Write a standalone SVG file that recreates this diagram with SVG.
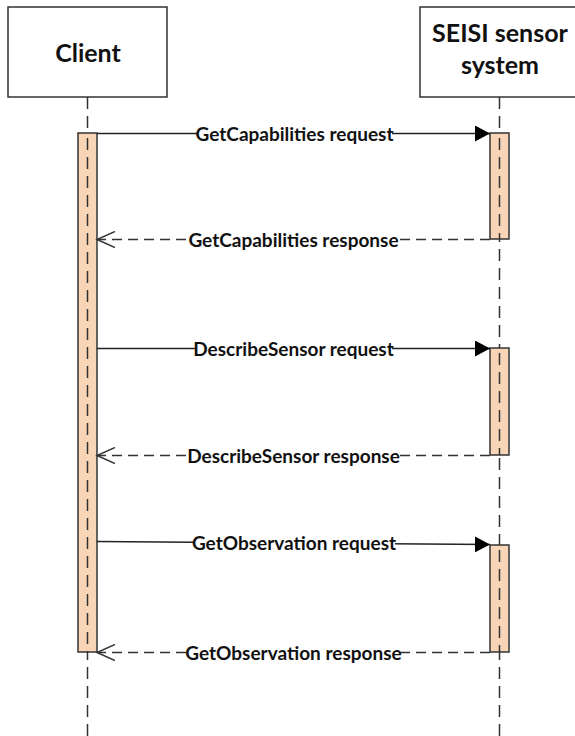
<svg xmlns="http://www.w3.org/2000/svg" width="575" height="736" viewBox="0 0 575 736">
<defs>
<style>
.box{fill:#ffffff;stroke:#333333;stroke-width:1.5}
.title{font-family:Lato,"Liberation Sans",sans-serif;font-weight:bold;font-size:25px;fill:#111111;text-anchor:middle}
.life{stroke:#333333;stroke-width:1.5;stroke-dasharray:12 7;fill:none}
.act{fill:#f9d5b7;stroke:#333333;stroke-width:1.5}
.req{stroke:#222222;stroke-width:1.5;fill:none;marker-end:url(#filled)}
.resp{stroke:#333333;stroke-width:1.6;stroke-dasharray:10 6;fill:none;marker-end:url(#open)}
.lbl{font-family:Lato,"Liberation Sans",sans-serif;font-weight:bold;font-size:19px;fill:#111111;text-anchor:middle}
.bg{fill:#ffffff}
</style>
<marker id="filled" viewBox="0 0 16 16" refX="15" refY="8" markerWidth="16" markerHeight="16" markerUnits="userSpaceOnUse" orient="auto">
<path d="M0,0 L15,8 L0,16 z" fill="#000000"/>
</marker>
<marker id="open" viewBox="0 0 20 18" refX="18" refY="9" markerWidth="20" markerHeight="18" markerUnits="userSpaceOnUse" orient="auto">
<path d="M0,1 L18,9 L0,17" fill="none" stroke="#333333" stroke-width="1.5"/>
</marker>
</defs>
<rect width="575" height="736" fill="#ffffff"/>

<g id="client">
<rect class="box" x="8" y="7" width="159" height="90"/>
<text class="title" x="88" y="62">Client</text>
<line class="life" x1="87.5" y1="97" x2="87.5" y2="736"/>
<rect class="act" x="78" y="133" width="19" height="519"/>
<line class="life" x1="87.5" y1="138" x2="87.5" y2="652"/>
</g>

<g id="sensor">
<rect class="box" x="420" y="7" width="160" height="90"/>
<text class="title" x="500" y="42">SEISI sensor</text>
<text class="title" x="500" y="74">system</text>
<line class="life" x1="499.5" y1="97" x2="499.5" y2="736"/>
<rect class="act" x="490" y="133" width="19" height="106"/>
<line class="life" x1="499.5" y1="138" x2="499.5" y2="239"/>
<rect class="act" x="490" y="348" width="19" height="107"/>
<line class="life" x1="499.5" y1="353" x2="499.5" y2="455"/>
<rect class="act" x="490" y="545" width="19" height="107"/>
<line class="life" x1="499.5" y1="550" x2="499.5" y2="652"/>
</g>

<g id="connectors">
<g id="m1">
<line class="req" x1="97" y1="133.5" x2="490" y2="133.5"/>
<rect class="bg" x="197" y="123" width="195" height="22"/>
<text class="lbl" x="294.5" y="140.5">GetCapabilities request</text>
</g>
<g id="m2">
<line class="resp" x1="490" y1="239.5" x2="97" y2="239.5"/>
<rect class="bg" x="190" y="229" width="207" height="22"/>
<text class="lbl" x="293.5" y="246.5">GetCapabilities response</text>
</g>
<g id="m3">
<line class="req" x1="97" y1="348.5" x2="490" y2="348.5"/>
<rect class="bg" x="195" y="338" width="197" height="22"/>
<text class="lbl" x="293.5" y="355.5">DescribeSensor request</text>
</g>
<g id="m4">
<line class="resp" x1="490" y1="455.5" x2="97" y2="455.5"/>
<rect class="bg" x="190" y="445" width="207" height="22"/>
<text class="lbl" x="293.5" y="462.5">DescribeSensor response</text>
</g>
<g id="m5">
<line class="req" x1="97" y1="541.5" x2="490" y2="544.5"/>
<rect class="bg" x="193" y="532" width="202" height="22"/>
<text class="lbl" x="294" y="549.5">GetObservation request</text>
</g>
<g id="m6">
<line class="resp" x1="490" y1="652.5" x2="97" y2="652.5"/>
<rect class="bg" x="187" y="642" width="213" height="22"/>
<text class="lbl" x="293.5" y="659.5">GetObservation response</text>
</g>
</g>
</svg>
